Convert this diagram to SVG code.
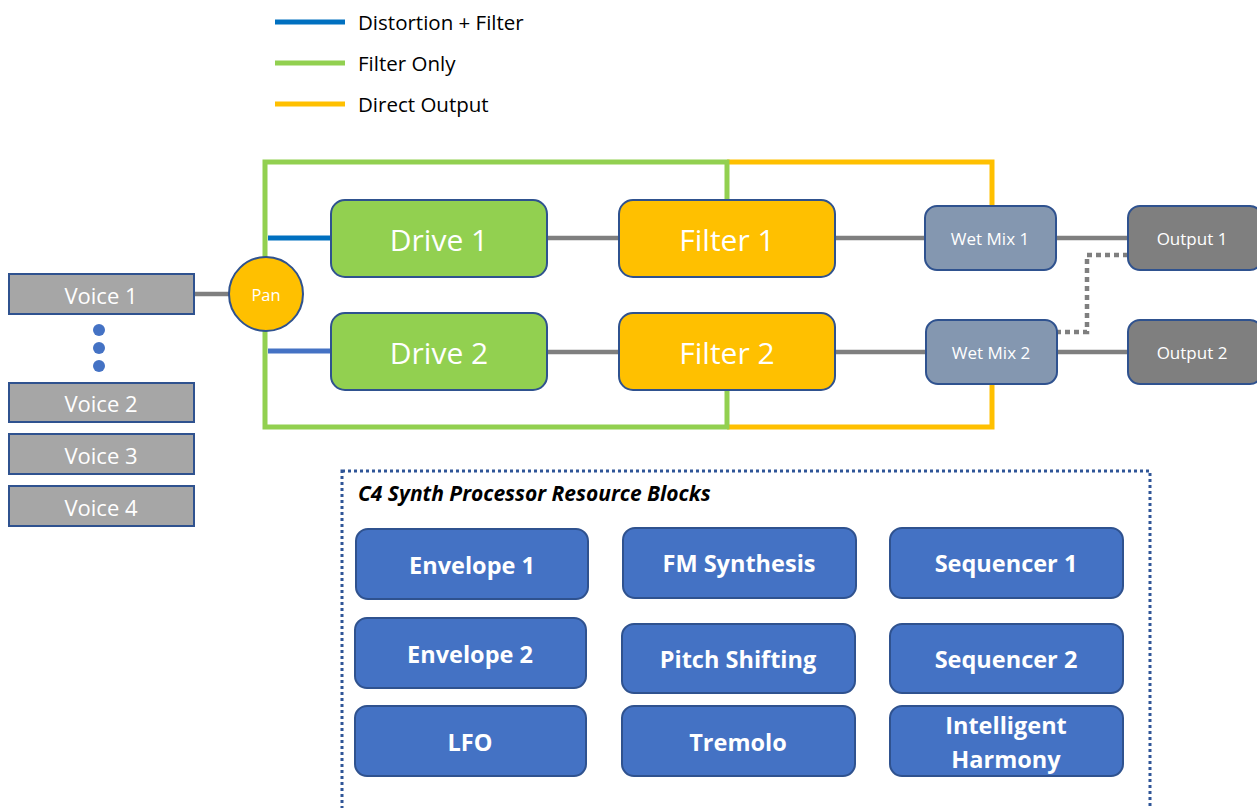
<svg xmlns="http://www.w3.org/2000/svg" width="1257" height="808" viewBox="0 0 1257 808">
  <style>
    text { font-family: "Open Sans", "Liberation Sans", sans-serif; fill: #ffffff; text-anchor: middle; dominant-baseline: central; }
    .legend { fill: #000000; text-anchor: start; font-size: 20.5px; }
    .node { stroke: #2F528F; stroke-width: 2; }
    .drive { fill: #92D050; }
    .filter { fill: #FFC000; }
    .wet { fill: #8497B0; }
    .out { fill: #7F7F7F; }
    .voice { fill: #A6A6A6; }
    .res { fill: #4472C4; stroke: #2F528F; stroke-width: 2; }
    .big { font-size: 30px; }
    .mid { font-size: 17px; }
    .vt { font-size: 22px; }
    .rt { font-size: 23.5px; font-weight: bold; }
    .sig { stroke: #7F7F7F; stroke-width: 4.5; fill: none; }
    .gpath { stroke: #92D050; stroke-width: 5; fill: none; }
    .opath { stroke: #FFC000; stroke-width: 5; fill: none; }
  </style>

  <!-- legend -->
  <g id="legend">
    <line x1="275" y1="22" x2="345" y2="22" stroke="#0070C0" stroke-width="5"/>
    <text class="legend" x="358" y="22">Distortion + Filter</text>
    <line x1="275" y1="63" x2="345" y2="63" stroke="#92D050" stroke-width="5"/>
    <text class="legend" x="358" y="63">Filter Only</text>
    <line x1="275" y1="104" x2="345" y2="104" stroke="#FFC000" stroke-width="5"/>
    <text class="legend" x="358" y="104">Direct Output</text>
  </g>

  <!-- connectors -->
  <g id="connectors">
    <polyline class="opath" points="727,162 992,162 992,207"/>
    <polyline class="opath" points="727,427 992,427 992,384"/>
    <polyline class="gpath" points="727,200 727,162 265,162 265,427 727,427 727,390"/>
    <line x1="268" y1="238" x2="331" y2="238" stroke="#0070C0" stroke-width="5"/>
    <line x1="268" y1="351" x2="331" y2="351" stroke="#4472C4" stroke-width="5"/>
    <line class="sig" x1="194" y1="294" x2="229" y2="294"/>
    <line class="sig" x1="547" y1="238" x2="619" y2="238"/>
    <line class="sig" x1="835" y1="238" x2="925" y2="238"/>
    <line class="sig" x1="1056" y1="238" x2="1128" y2="238"/>
    <line class="sig" x1="547" y1="352" x2="619" y2="352"/>
    <line class="sig" x1="835" y1="352" x2="926" y2="352"/>
    <line class="sig" x1="1057" y1="352" x2="1128" y2="352"/>
    <polyline class="sig" points="1128,255 1087,255 1087,332 1057,332" stroke-dasharray="5 4"/>
  </g>

  <!-- voices -->
  <g id="voice1"><rect class="node voice" x="9" y="274" width="185" height="40"/><text class="vt" x="101" y="295">Voice 1</text></g>
  <g id="voice-ellipsis" fill="#4472C4">
    <circle cx="99" cy="330" r="6"/><circle cx="99" cy="348" r="6"/><circle cx="99" cy="366" r="6"/>
  </g>
  <g id="voice2"><rect class="node voice" x="9" y="383" width="185" height="39"/><text class="vt" x="101" y="403">Voice 2</text></g>
  <g id="voice3"><rect class="node voice" x="9" y="434" width="185" height="40"/><text class="vt" x="101" y="455">Voice 3</text></g>
  <g id="voice4"><rect class="node voice" x="9" y="486" width="185" height="40"/><text class="vt" x="101" y="507">Voice 4</text></g>

  <!-- pan -->
  <g id="pan"><circle class="node" cx="266" cy="294" r="37" fill="#FFC000"/><text x="266" y="294" font-size="16.5">Pan</text></g>

  <!-- processing chain -->
  <g id="drive1"><rect class="node drive" x="331" y="200" width="216" height="77" rx="14"/><text class="big" x="439" y="239">Drive 1</text></g>
  <g id="drive2"><rect class="node drive" x="331" y="313" width="216" height="77" rx="14"/><text class="big" x="439" y="352">Drive 2</text></g>
  <g id="filter1"><rect class="node filter" x="619" y="200" width="216" height="77" rx="14"/><text class="big" x="727" y="239">Filter 1</text></g>
  <g id="filter2"><rect class="node filter" x="619" y="313" width="216" height="77" rx="14"/><text class="big" x="727" y="352">Filter 2</text></g>
  <g id="wetmix1"><rect class="node wet" x="925" y="206" width="131" height="64" rx="12"/><text class="mid" x="990" y="238">Wet Mix 1</text></g>
  <g id="wetmix2"><rect class="node wet" x="926" y="320" width="131" height="64" rx="12"/><text class="mid" x="991" y="352">Wet Mix 2</text></g>
  <g id="output1"><rect class="node out" x="1128" y="206" width="134" height="64" rx="12"/><text class="mid" x="1192" y="238">Output 1</text></g>
  <g id="output2"><rect class="node out" x="1128" y="320" width="134" height="64" rx="12"/><text class="mid" x="1192" y="352">Output 2</text></g>

  <!-- resource blocks -->
  <g id="resources">
    <rect x="342" y="471" width="808" height="360" fill="none" stroke="#2F5597" stroke-width="3" stroke-dasharray="3 3"/>
    <text x="358" y="493" font-size="21" font-weight="bold" font-style="italic" style="fill:#000000;text-anchor:start">C4 Synth Processor Resource Blocks</text>
  </g>
  <g id="envelope1"><rect class="res" x="356" y="529" width="232" height="70" rx="12"/><text class="rt" x="472" y="565">Envelope 1</text></g>
  <g id="envelope2"><rect class="res" x="355" y="618" width="231" height="70" rx="12"/><text class="rt" x="470" y="654">Envelope 2</text></g>
  <g id="lfo"><rect class="res" x="355" y="706" width="231" height="70" rx="12"/><text class="rt" x="470" y="742">LFO</text></g>
  <g id="fm"><rect class="res" x="623" y="528" width="233" height="70" rx="12"/><text class="rt" x="739" y="563">FM Synthesis</text></g>
  <g id="pitch"><rect class="res" x="622" y="624" width="233" height="69" rx="12"/><text class="rt" x="738" y="659">Pitch Shifting</text></g>
  <g id="tremolo"><rect class="res" x="622" y="706" width="233" height="70" rx="12"/><text class="rt" x="738" y="742">Tremolo</text></g>
  <g id="sequencer1"><rect class="res" x="890" y="528" width="233" height="70" rx="12"/><text class="rt" x="1006" y="563">Sequencer 1</text></g>
  <g id="sequencer2"><rect class="res" x="890" y="624" width="233" height="69" rx="12"/><text class="rt" x="1006" y="659">Sequencer 2</text></g>
  <g id="harmony"><rect class="res" x="890" y="706" width="233" height="70" rx="12"/><text class="rt" x="1006" y="725">Intelligent</text><text class="rt" x="1006" y="759">Harmony</text></g>
</svg>
